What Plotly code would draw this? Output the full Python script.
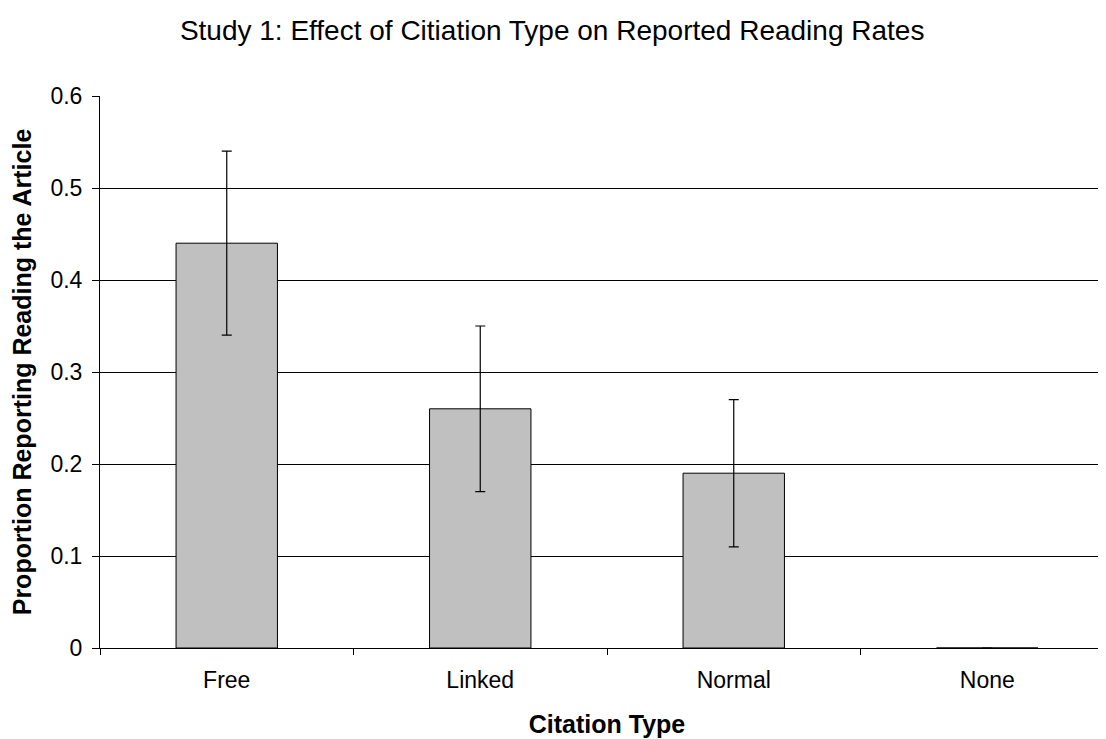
import plotly.graph_objects as go

categories = ["Free", "Linked", "Normal", "None"]
proportions = [0.44, 0.26, 0.19, 0.0]
error_half = [0.10, 0.09, 0.08, 0.0]
y_ticks = [0, 0.1, 0.2, 0.3, 0.4, 0.5, 0.6]
y_tick_labels = ["0", "0.1", "0.2", "0.3", "0.4", "0.5", "0.6"]

FONT = "Liberation Sans, Arial, sans-serif"

fig = go.Figure()
fig.add_trace(go.Bar(
    x=categories,
    y=proportions,
    width=0.4,
    marker=dict(color="#C0C0C0", line=dict(color="black", width=1)),
    error_y=dict(type="data", array=error_half, visible=True,
                 color="black", thickness=1.2, width=5),
))

fig.update_layout(
    width=1106, height=739,
    margin=dict(l=92, r=0, t=88, b=99),
    paper_bgcolor="white", plot_bgcolor="white",
    showlegend=False,
    title=dict(text="Study 1: Effect of Citiation Type on Reported Reading Rates",
               x=0.492, xanchor="center", y=0.970, yanchor="middle",
               font=dict(family=FONT, size=28, color="black")),
    font=dict(family=FONT, color="black"),
    bargap=0.6,
)

fig.update_xaxes(
    range=[-0.5, 3.5],
    showline=True, linecolor="black", linewidth=1,
    ticks="outside", tickson="boundaries", ticklen=6, tickcolor="black",
    tickfont=dict(family=FONT, size=23, color="black"),
    ticklabelstandoff=11,
    showgrid=False,
    title=dict(text="<b>Citation Type</b>", font=dict(family=FONT, size=25, color="black"), standoff=23),
)
fig.update_yaxes(
    range=[0, 0.6],
    tickvals=y_ticks, ticktext=y_tick_labels,
    showline=True, linecolor="black", linewidth=1,
    ticks="outside", ticklen=7, tickcolor="black",
    tickfont=dict(family=FONT, size=23, color="black"),
    ticklabelstandoff=5,
    showgrid=True, gridcolor="black", gridwidth=1,
    zeroline=False,
    title=dict(text="<b>Proportion Reporting Reading the Article</b>",
               font=dict(family=FONT, size=25, color="black"), standoff=18),
)

fig.write_html("out.html")
